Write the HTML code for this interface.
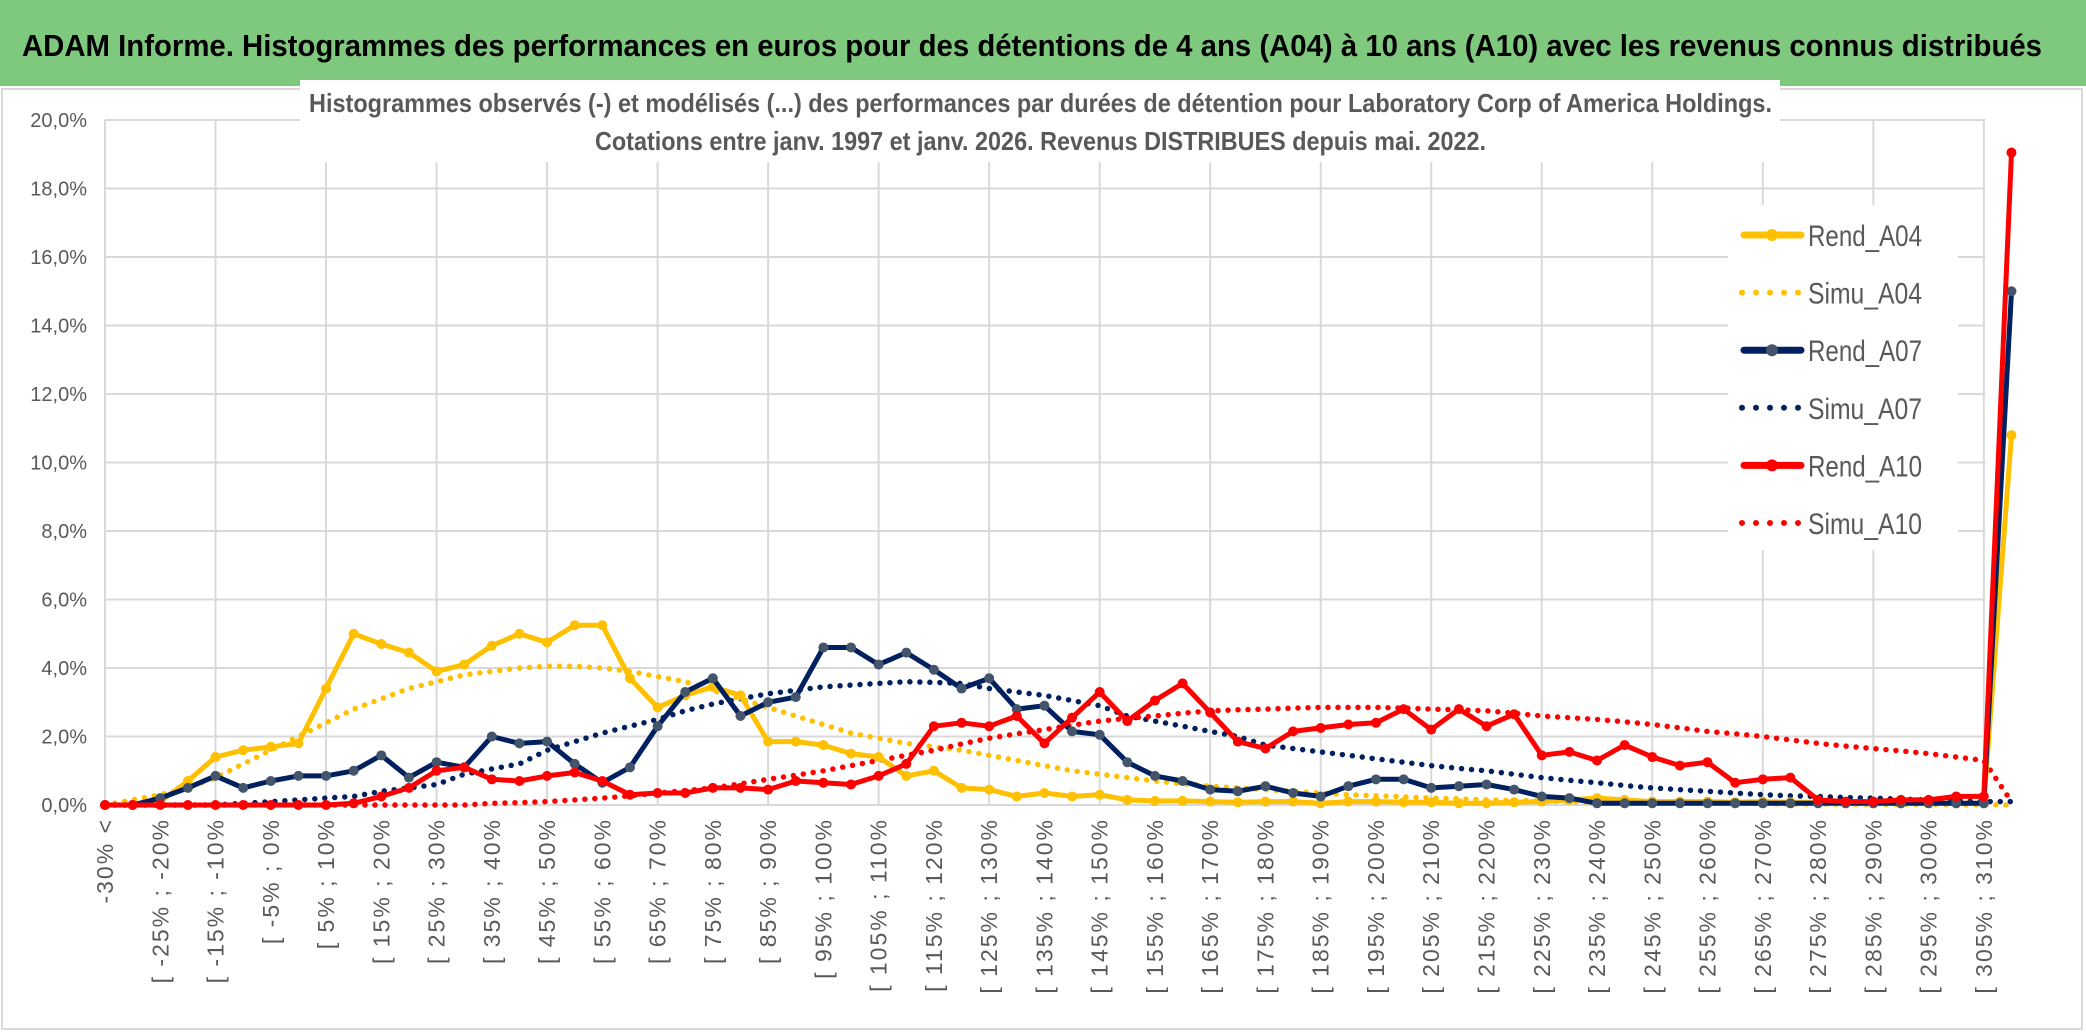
<!DOCTYPE html>
<html><head><meta charset="utf-8">
<style>
html,body{margin:0;padding:0;background:#fff;}
svg{display:block;}
text{font-family:"Liberation Sans Narrow","Liberation Sans",sans-serif;}
</style></head>
<body>
<svg id="chart" width="2086" height="1033" viewBox="0 0 2086 1033" xmlns="http://www.w3.org/2000/svg">
<rect x="0" y="0" width="2086" height="1033" fill="#fff"/>
<rect x="0" y="0" width="2086" height="86" fill="#7fc97f"/>
<text x="22" y="56" font-size="31" font-weight="bold" fill="#000" textLength="2020" lengthAdjust="spacingAndGlyphs">ADAM Informe. Histogrammes des performances en euros pour des détentions de 4 ans (A04) à 10 ans (A10) avec les revenus connus distribués</text>
<rect x="2" y="89" width="2080" height="940" fill="none" stroke="#d9d9d9" stroke-width="2"/>
<g id="grid"></g>
<rect x="300" y="80" width="1480" height="82" fill="#fff"/>
<text x="309" y="112" font-size="26" font-weight="bold" fill="#595959" textLength="1463" lengthAdjust="spacingAndGlyphs">Histogrammes observés (-) et modélisés (...) des performances par durées de détention pour Laboratory Corp of America Holdings.</text>
<text x="595" y="150" font-size="26" font-weight="bold" fill="#595959" textLength="891" lengthAdjust="spacingAndGlyphs">Cotations entre janv. 1997 et janv. 2026. Revenus DISTRIBUES depuis mai. 2022.</text>
<g id="yticks"></g>
<g id="xticks"></g>
<rect x="1728" y="205" width="230" height="345" fill="#fff"/>
<g id="series"></g>
<g id="legend"></g>
</svg>
<script>
const yTickLabels = ["0,0%","2,0%","4,0%","6,0%","8,0%","10,0%","12,0%","14,0%","16,0%","18,0%","20,0%"];
const yTickValues = [0,2,4,6,8,10,12,14,16,18,20];
const categories = (function(){const c=["-30% <"];for(let k=1;k<69;k++){const a=-30+5*(k-1);c.push("[ "+a+"% ; "+(a+5)+"%");}c.push("310% <");return c;})();
const rendA04 = [0,0,0.1,0.7,1.4,1.6,1.7,1.8,3.4,5.0,4.7,4.45,3.9,4.1,4.65,5.0,4.75,5.25,5.25,3.7,2.85,3.2,3.45,3.2,1.85,1.85,1.75,1.5,1.4,0.85,1.0,0.5,0.45,0.25,0.35,0.25,0.3,0.15,0.12,0.12,0.1,0.08,0.1,0.1,0.05,0.1,0.1,0.08,0.08,0.05,0.05,0.08,0.1,0.15,0.2,0.15,0.1,0.1,0.1,0.08,0.1,0.08,0.08,0.05,0.05,0.05,0.05,0.05,0.05,10.8];
const simuA04 = [0,0.15,0.3,0.5,0.8,1.2,1.6,2.0,2.4,2.8,3.1,3.4,3.6,3.8,3.9,4.0,4.05,4.05,4.0,3.9,3.75,3.6,3.35,3.1,2.85,2.6,2.35,2.1,1.95,1.8,1.7,1.6,1.45,1.3,1.15,1.0,0.9,0.8,0.7,0.62,0.55,0.5,0.45,0.4,0.35,0.3,0.27,0.24,0.2,0.18,0.15,0.13,0.12,0.1,0.08,0.07,0.06,0.05,0.05,0.04,0.04,0.03,0.03,0.02,0.02,0.02,0.02,0.01,0.01,0.0];
const rendA07 = [0,0,0.2,0.5,0.85,0.5,0.7,0.85,0.85,1.0,1.45,0.8,1.25,1.1,2.0,1.8,1.85,1.2,0.65,1.1,2.3,3.3,3.7,2.6,3.0,3.15,4.6,4.6,4.1,4.45,3.95,3.4,3.7,2.8,2.9,2.15,2.05,1.25,0.85,0.7,0.45,0.4,0.55,0.35,0.25,0.55,0.75,0.75,0.5,0.55,0.6,0.45,0.25,0.2,0.05,0.05,0.05,0.05,0.05,0.05,0.05,0.05,0.05,0.05,0.05,0.05,0.05,0.05,0.05,15.0];
const simuA07 = [0,0,0,0,0,0.05,0.1,0.15,0.2,0.25,0.4,0.5,0.6,0.9,1.05,1.2,1.6,1.85,2.1,2.3,2.5,2.75,2.95,3.1,3.25,3.35,3.45,3.5,3.55,3.6,3.58,3.55,3.4,3.3,3.2,3.05,2.9,2.6,2.45,2.3,2.15,2.0,1.75,1.65,1.55,1.45,1.35,1.25,1.15,1.07,1.0,0.9,0.8,0.72,0.65,0.57,0.5,0.45,0.4,0.35,0.3,0.27,0.25,0.22,0.2,0.17,0.15,0.12,0.1,0.1];
const rendA10 = [0,0,0,0,0,0,0,0,0,0.05,0.25,0.5,1.0,1.1,0.75,0.7,0.85,0.95,0.7,0.3,0.35,0.35,0.5,0.5,0.45,0.7,0.65,0.6,0.85,1.2,2.3,2.4,2.3,2.6,1.8,2.55,3.3,2.45,3.05,3.55,2.7,1.85,1.65,2.15,2.25,2.35,2.4,2.8,2.2,2.8,2.3,2.65,1.45,1.55,1.3,1.75,1.4,1.15,1.25,0.65,0.75,0.8,0.15,0.1,0.1,0.15,0.15,0.25,0.25,19.05];
const simuA10 = [0,0,0,0,0,0,0,0,0,0,0,0,0,0,0.05,0.07,0.1,0.15,0.2,0.27,0.35,0.42,0.5,0.62,0.75,0.87,1.0,1.15,1.3,1.45,1.6,1.78,1.95,2.08,2.2,2.33,2.45,2.53,2.6,2.68,2.75,2.78,2.8,2.83,2.85,2.85,2.85,2.83,2.8,2.78,2.75,2.68,2.6,2.55,2.5,2.43,2.35,2.25,2.15,2.08,2.0,1.9,1.8,1.72,1.65,1.58,1.5,1.4,1.3,0.1];

const NS="http://www.w3.org/2000/svg";
const X0=105, DX=27.63, Y0=805, PY=34.25;
function xS(i){return X0+DX*i;}
function yS(v){return Y0-PY*v;}
function mk(tag,attrs,parent){const e=document.createElementNS(NS,tag);for(const k in attrs)e.setAttribute(k,attrs[k]);parent.appendChild(e);return e;}

const grid=document.getElementById('grid');
yTickValues.forEach(function(v){
  const l=mk('line',{x1:X0,x2:xS(69)-26,y1:yS(v),y2:yS(v),stroke:'#d9d9d9','stroke-width':2},grid);
  
  
});
for(let i=0;i<categories.length;i+=4){
  const l=mk('line',{x1:xS(i),x2:xS(i),y1:yS(20),y2:yS(0),stroke:'#d9d9d9','stroke-width':2},grid);
  
  
}
const yt=document.getElementById('yticks');
yTickValues.forEach(function(v,i){
  const t=mk('text',{x:87,y:yS(v)+7,'text-anchor':'end','font-size':20,fill:'#595959'},yt);
  t.textContent=yTickLabels[i];
  
  
});
const xt=document.getElementById('xticks');
for(let i=0;i<categories.length-1;i+=2){
  const x=xS(i)+8, y=818;
  const t=mk('text',{x:x,y:y,'text-anchor':'end','font-size':23,'letter-spacing':2,fill:'#595959',transform:'rotate(-90 '+x+' '+y+')'},xt);
  t.textContent=categories[i];
  
  
}
const ser=document.getElementById('series');
function pts(arr){return arr.map(function(v,i){return xS(i).toFixed(1)+','+yS(v).toFixed(1);}).join(' ');}
function dotted(arr,color,name){
  const p=mk('polyline',{points:pts(arr),fill:'none',stroke:color,'stroke-width':5.5,'stroke-linecap':'round','stroke-dasharray':'0 10'},ser);
  
  
}
function solid(arr,color,mcolor,name){
  const g=mk('g',{},ser);
  
  
  mk('polyline',{points:pts(arr),fill:'none',stroke:color,'stroke-width':5,'stroke-linejoin':'round'},g);
  arr.forEach(function(v,i){
    const c=mk('circle',{cx:xS(i),cy:yS(v),r:5,fill:mcolor},g);
    
    
  });
}
dotted(simuA04,'#FFC000','simu-a04-line');
dotted(simuA07,'#002060','simu-a07-line');
dotted(simuA10,'#FF0000','simu-a10-line');
solid(rendA04,'#FFC000','#FFC000','rend-a04-line');
solid(rendA07,'#002060','#44546A','rend-a07-line');
solid(rendA10,'#FF0000','#FF0000','rend-a10-line');

const leg=document.getElementById('legend');
const legItems=[["Rend_A04","#FFC000",false,"#FFC000"],["Simu_A04","#FFC000",true],["Rend_A07","#002060",false,"#44546A"],["Simu_A07","#002060",true],["Rend_A10","#FF0000",false,"#FF0000"],["Simu_A10","#FF0000",true]];
legItems.forEach(function(it,i){
  const y=235+57.6*i;
  const g=mk('g',{},leg);
  
  
  if(it[2]){
    mk('line',{x1:1742,x2:1800,y1:y,y2:y,stroke:it[1],'stroke-width':6,'stroke-linecap':'round','stroke-dasharray':'0 14'},g);
  } else {
    mk('line',{x1:1744,x2:1801,y1:y,y2:y,stroke:it[1],'stroke-width':7,'stroke-linecap':'round'},g);
    mk('circle',{cx:1772,cy:y,r:6,fill:it[3]},g);
  }
  const t=mk('text',{x:1808,y:y+11,'font-size':30,fill:'#595959',textLength:114,lengthAdjust:'spacingAndGlyphs'},g);
  t.textContent=it[0];
});
</script>
</body></html>
